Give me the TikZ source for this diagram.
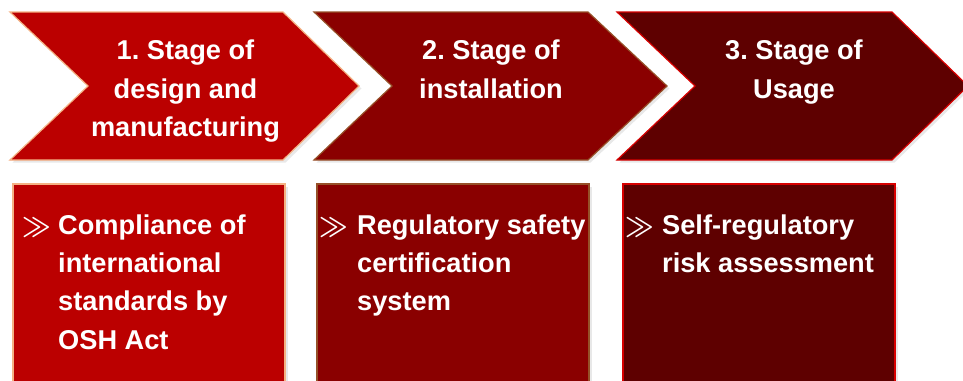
\documentclass[tikz,border=0pt]{standalone}
\usepackage{fontspec}
\setmainfont{Liberation Sans}
\usetikzlibrary{shadows}
\definecolor{fillA}{RGB}{187,0,0}
\definecolor{fillB}{RGB}{138,0,0}
\definecolor{fillC}{RGB}{94,0,0}
\definecolor{edgeA}{RGB}{244,177,131}
\definecolor{edgeB}{RGB}{150,80,40}
\definecolor{edgeC}{RGB}{215,0,0}
\frenchspacing
\begin{document}
\begin{tikzpicture}[x=1pt,y=-1pt,
  panel/.style={line width=1.2pt, drop shadow={opacity=0.18, shadow xshift=2.5pt, shadow yshift=-2.5pt}},
  stagetext/.style={text=white, font=\fontsize{27.2}{38.5}\selectfont\bfseries, align=center, inner sep=0pt, anchor=north},
  itemtext/.style={text=white, font=\fontsize{27.2}{38.2}\selectfont\bfseries, align=left, inner sep=0pt, anchor=north west},
  bullet/.style={text=white, font=\fontsize{26}{30}\selectfont\boldmath, inner sep=0pt, anchor=base west}]
\useasboundingbox (0,0) rectangle (963,380);
\clip (0,0) rectangle (963,380);
% chevrons
\path[panel, fill=fillA, draw=edgeA] (10,12) -- (283,12) -- (359,86) -- (283,160) -- (10,160) -- (88,86) -- cycle;
\path[panel, fill=fillB, draw=edgeB] (314,12) -- (588,12) -- (667,86) -- (588,160) -- (314,160) -- (392,86) -- cycle;
\path[panel, fill=fillC, draw=edgeC] (617,12) -- (892,12) -- (968,86) -- (892,160) -- (617,160) -- (695,86) -- cycle;
% boxes
\path[panel, fill=fillA, draw=edgeA] (13,184) rectangle (285,395);
\path[panel, fill=fillB, draw=edgeB] (317,184) rectangle (589,395);
\path[panel, fill=fillC, draw=edgeC] (623,184) rectangle (895,395);
% stage texts
\node[stagetext] (s1) at (185.5,39.7) {1. Stage of\\design and\\manufacturing};
\node[stagetext] (s2) at (491,39.7) {2. Stage of\\installation};
\node[stagetext] (s3) at (794,39.7) {3. Stage of\\Usage};
% bullets
\node[bullet] (b1) at (22,234.5) {\scalebox{1}[1.12]{$\gg$}};
\node[bullet] (b2) at (319,234.5) {\scalebox{1}[1.12]{$\gg$}};
\node[bullet] (b3) at (625,234.5) {\scalebox{1}[1.12]{$\gg$}};
% item texts
\node[itemtext] (t1) at (58,214.6) {Compliance of\\international\\standards by\\OSH Act};
\node[itemtext] (t2) at (357,214.6) {Regulatory safety\\certification\\system};
\node[itemtext] (t3) at (662,214.6) {Self-regulatory\\risk assessment};
\end{tikzpicture}
\end{document}
